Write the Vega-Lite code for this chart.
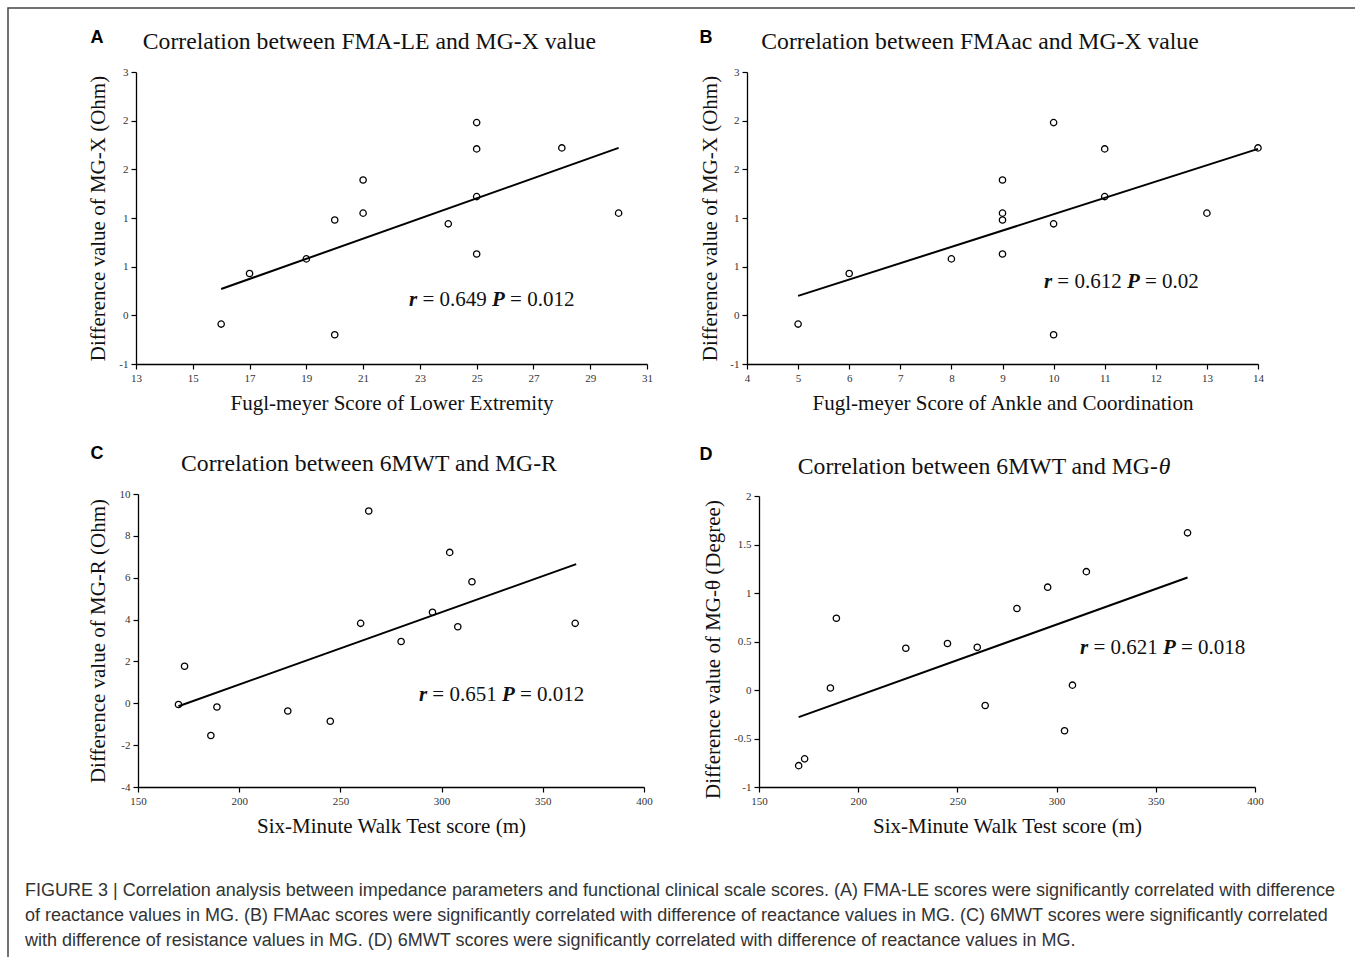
{
  "$schema": "https://vega.github.io/schema/vega-lite/v6.json",
  "width": 1355,
  "height": 957,
  "autosize": {"type": "fit", "contains": "padding"},
  "padding": {"left": 8, "top": 8, "right": -10, "bottom": -10},
  "background": "white",
  "config": {
    "view": {"stroke": "#444", "strokeWidth": 1.5, "strokeDash": [1400, 2265, 1000, 0]},
    "axis": {
      "grid": false,
      "labelFont": "Liberation Serif",
      "labelFontSize": 11,
      "labelColor": "#333",
      "labelPadding": 3,
      "labelFlush": false,
      "labelOverlap": false,
      "titleFont": "Liberation Serif",
      "titleFontSize": 21,
      "titleFontWeight": "normal",
      "titleColor": "#111",
      "domainColor": "#000",
      "domainWidth": 1.3,
      "tickColor": "#000",
      "tickWidth": 1.2,
      "tickSize": 5
    },
    "text": {"font": "Liberation Serif", "color": "#111"}
  },
  "title": {
    "text": [
      "FIGURE 3 | Correlation analysis between impedance parameters and functional clinical scale scores. (A) FMA-LE scores were significantly correlated with difference",
      "of reactance values in MG. (B) FMAac scores were significantly correlated with difference of reactance values in MG. (C) 6MWT scores were significantly correlated",
      "with difference of resistance values in MG. (D) 6MWT scores were significantly correlated with difference of reactance values in MG."
    ],
    "orient": "bottom",
    "anchor": "start",
    "frame": "group",
    "offset": -85,
    "dx": 17,
    "font": "Liberation Sans",
    "fontSize": 18,
    "fontWeight": "normal",
    "color": "#333",
    "lineHeight": 25,
    "baseline": "top"
  },
  "datasets": {
    "ptsA": [
      {"score": 16, "diff": -0.09}, {"score": 17, "diff": 0.43}, {"score": 19, "diff": 0.58},
      {"score": 20, "diff": 0.98}, {"score": 20, "diff": -0.2}, {"score": 21, "diff": 1.39},
      {"score": 21, "diff": 1.05}, {"score": 24, "diff": 0.94}, {"score": 25, "diff": 1.98},
      {"score": 25, "diff": 1.71}, {"score": 25, "diff": 1.22}, {"score": 25, "diff": 0.63},
      {"score": 28, "diff": 1.72}, {"score": 30, "diff": 1.05}
    ],
    "lineA": [{"score": 16, "diff": 0.27}, {"score": 30, "diff": 1.72}],
    "ptsB": [
      {"score": 5, "diff": -0.09}, {"score": 6, "diff": 0.43}, {"score": 8, "diff": 0.58},
      {"score": 9, "diff": 1.39}, {"score": 9, "diff": 1.05}, {"score": 9, "diff": 0.98},
      {"score": 9, "diff": 0.63}, {"score": 10, "diff": 1.98}, {"score": 10, "diff": 0.94},
      {"score": 10, "diff": -0.2}, {"score": 11, "diff": 1.71}, {"score": 11, "diff": 1.22},
      {"score": 13, "diff": 1.05}, {"score": 14, "diff": 1.72}
    ],
    "lineB": [{"score": 5, "diff": 0.2}, {"score": 14, "diff": 1.71}],
    "ptsC": [
      {"walk": 170, "diff": -0.06}, {"walk": 173, "diff": 1.77}, {"walk": 186, "diff": -1.54},
      {"walk": 189, "diff": -0.18}, {"walk": 224, "diff": -0.37}, {"walk": 245, "diff": -0.86},
      {"walk": 260, "diff": 3.82}, {"walk": 264, "diff": 9.19}, {"walk": 280, "diff": 2.95},
      {"walk": 295.5, "diff": 4.35}, {"walk": 304, "diff": 7.21}, {"walk": 308, "diff": 3.66},
      {"walk": 315, "diff": 5.81}, {"walk": 366, "diff": 3.82}
    ],
    "lineC": [{"walk": 170, "diff": -0.14}, {"walk": 366.5, "diff": 6.65}],
    "ptsD": [
      {"walk": 170, "diff": -0.78}, {"walk": 173, "diff": -0.71}, {"walk": 186, "diff": 0.02},
      {"walk": 189, "diff": 0.74}, {"walk": 224, "diff": 0.43}, {"walk": 245, "diff": 0.48},
      {"walk": 260, "diff": 0.44}, {"walk": 264, "diff": -0.16}, {"walk": 280, "diff": 0.84},
      {"walk": 295.5, "diff": 1.06}, {"walk": 304, "diff": -0.42}, {"walk": 308, "diff": 0.05},
      {"walk": 315, "diff": 1.22}, {"walk": 366, "diff": 1.62}
    ],
    "lineD": [{"walk": 170, "diff": -0.28}, {"walk": 366, "diff": 1.16}],
    "labA": [{"letter": "A", "title": "Correlation between FMA-LE and MG-X value", "r": "r", "rv": "= 0.649", "p": "P", "pv": "= 0.012"}],
    "labB": [{"letter": "B", "title": "Correlation between FMAac and MG-X value", "r": "r", "rv": "= 0.612", "p": "P", "pv": "= 0.02"}],
    "labC": [{"letter": "C", "title": "Correlation between 6MWT and MG-R", "r": "r", "rv": "= 0.651", "p": "P", "pv": "= 0.012"}],
    "labD": [{"letter": "D", "title": "Correlation between 6MWT and MG-", "theta": "θ", "r": "r", "rv": "= 0.621", "p": "P", "pv": "= 0.018"}]
  },
  "layer": [
    {
      "layer": [
        {
          "data": {"name": "ptsA"},
          "mark": {"type": "point", "shape": "circle", "filled": false, "size": 40, "strokeWidth": 1.3, "color": "#000", "opacity": 1},
          "encoding": {
            "x": {"field": "score", "type": "quantitative",
              "scale": {"domain": [13, 31], "range": [128, 639], "nice": false, "zero": false},
              "axis": {"title": "Fugl-meyer Score of Lower Extremity", "orient": "bottom", "offset": -603, "values": [13, 15, 17, 19, 21, 23, 25, 27, 29, 31], "format": "d", "titlePadding": 9}},
            "y": {"field": "diff", "type": "quantitative",
              "scale": {"domain": [-0.5, 2.5], "range": [356, 64], "nice": false, "zero": false},
              "axis": {"title": "Difference value of MG-X (Ohm)", "orient": "left", "offset": -128, "values": [-0.5, 0, 0.5, 1, 1.5, 2, 2.5], "labelExpr": "datum.value < 0 ? '-1' : format(round(datum.value), 'd')", "titlePadding": 10}}
          }
        },
        {
          "data": {"name": "lineA"},
          "mark": {"type": "line", "color": "#000", "strokeWidth": 2},
          "encoding": {"x": {"field": "score", "type": "quantitative"}, "y": {"field": "diff", "type": "quantitative"}}
        },
        {
          "data": {"name": "labA"},
          "mark": {"type": "text", "fontSize": 23.7, "align": "center", "baseline": "middle"},
          "encoding": {"x": {"datum": 21.22}, "y": {"datum": 2.805}, "text": {"field": "title"}}
        },
        {
          "data": {"name": "labA"},
          "mark": {"type": "text", "font": "Liberation Sans", "fontWeight": "bold", "fontSize": 18, "color": "#000", "align": "center", "baseline": "middle"},
          "encoding": {"x": {"datum": 11.63}, "y": {"datum": 2.846}, "text": {"field": "letter"}}
        },
        {
          "data": {"name": "labA"},
          "mark": {"type": "text", "fontSize": 21, "fontWeight": "bold", "fontStyle": "italic", "align": "left", "baseline": "middle"},
          "encoding": {"x": {"datum": 22.62}, "y": {"datum": 0.154}, "text": {"field": "r"}}
        },
        {
          "data": {"name": "labA"},
          "mark": {"type": "text", "fontSize": 21, "align": "left", "baseline": "middle", "dx": 13.4},
          "encoding": {"x": {"datum": 22.62}, "y": {"datum": 0.154}, "text": {"field": "rv"}}
        },
        {
          "data": {"name": "labA"},
          "mark": {"type": "text", "fontSize": 21, "fontWeight": "bold", "fontStyle": "italic", "align": "left", "baseline": "middle", "dx": 83},
          "encoding": {"x": {"datum": 22.62}, "y": {"datum": 0.154}, "text": {"field": "p"}}
        },
        {
          "data": {"name": "labA"},
          "mark": {"type": "text", "fontSize": 21, "align": "left", "baseline": "middle", "dx": 101},
          "encoding": {"x": {"datum": 22.62}, "y": {"datum": 0.154}, "text": {"field": "pv"}}
        }
      ]
    },
    {
      "layer": [
        {
          "data": {"name": "ptsB"},
          "mark": {"type": "point", "shape": "circle", "filled": false, "size": 40, "strokeWidth": 1.3, "color": "#000", "opacity": 1},
          "encoding": {
            "x": {"field": "score", "type": "quantitative",
              "scale": {"domain": [4, 14], "range": [739, 1250], "nice": false, "zero": false},
              "axis": {"title": "Fugl-meyer Score of Ankle and Coordination", "orient": "bottom", "offset": -603, "values": [4, 5, 6, 7, 8, 9, 10, 11, 12, 13, 14], "format": "d", "titlePadding": 9}},
            "y": {"field": "diff", "type": "quantitative",
              "scale": {"domain": [-0.5, 2.5], "range": [356, 64], "nice": false, "zero": false},
              "axis": {"title": "Difference value of MG-X (Ohm)", "orient": "left", "offset": -739, "values": [-0.5, 0, 0.5, 1, 1.5, 2, 2.5], "labelExpr": "datum.value < 0 ? '-1' : format(round(datum.value), 'd')", "titlePadding": 9}}
          }
        },
        {
          "data": {"name": "lineB"},
          "mark": {"type": "line", "color": "#000", "strokeWidth": 2},
          "encoding": {"x": {"field": "score", "type": "quantitative"}, "y": {"field": "diff", "type": "quantitative"}}
        },
        {
          "data": {"name": "labB"},
          "mark": {"type": "text", "fontSize": 23.7, "align": "center", "baseline": "middle"},
          "encoding": {"x": {"datum": 8.56}, "y": {"datum": 2.805}, "text": {"field": "title"}}
        },
        {
          "data": {"name": "labB"},
          "mark": {"type": "text", "font": "Liberation Sans", "fontWeight": "bold", "fontSize": 18, "color": "#000", "align": "center", "baseline": "middle"},
          "encoding": {"x": {"datum": 3.198}, "y": {"datum": 2.846}, "text": {"field": "letter"}}
        },
        {
          "data": {"name": "labB"},
          "mark": {"type": "text", "fontSize": 21, "fontWeight": "bold", "fontStyle": "italic", "align": "left", "baseline": "middle"},
          "encoding": {"x": {"datum": 9.81}, "y": {"datum": 0.339}, "text": {"field": "r"}}
        },
        {
          "data": {"name": "labB"},
          "mark": {"type": "text", "fontSize": 21, "align": "left", "baseline": "middle", "dx": 13.4},
          "encoding": {"x": {"datum": 9.81}, "y": {"datum": 0.339}, "text": {"field": "rv"}}
        },
        {
          "data": {"name": "labB"},
          "mark": {"type": "text", "fontSize": 21, "fontWeight": "bold", "fontStyle": "italic", "align": "left", "baseline": "middle", "dx": 83},
          "encoding": {"x": {"datum": 9.81}, "y": {"datum": 0.339}, "text": {"field": "p"}}
        },
        {
          "data": {"name": "labB"},
          "mark": {"type": "text", "fontSize": 21, "align": "left", "baseline": "middle", "dx": 101},
          "encoding": {"x": {"datum": 9.81}, "y": {"datum": 0.339}, "text": {"field": "pv"}}
        }
      ]
    },
    {
      "layer": [
        {
          "data": {"name": "ptsC"},
          "mark": {"type": "point", "shape": "circle", "filled": false, "size": 40, "strokeWidth": 1.3, "color": "#000", "opacity": 1},
          "encoding": {
            "x": {"field": "walk", "type": "quantitative",
              "scale": {"domain": [150, 400], "range": [130, 636], "nice": false, "zero": false},
              "axis": {"title": "Six-Minute Walk Test score (m)", "orient": "bottom", "offset": -180, "values": [150, 200, 250, 300, 350, 400], "format": "d", "titlePadding": 9}},
            "y": {"field": "diff", "type": "quantitative",
              "scale": {"domain": [-4, 10], "range": [779, 486], "nice": false, "zero": false},
              "axis": {"title": "Difference value of MG-R (Ohm)", "orient": "left", "offset": -130, "values": [-4, -2, 0, 2, 4, 6, 8, 10], "labelExpr": "datum.value + ''", "titlePadding": 11}}
          }
        },
        {
          "data": {"name": "lineC"},
          "mark": {"type": "line", "color": "#000", "strokeWidth": 2},
          "encoding": {"x": {"field": "walk", "type": "quantitative"}, "y": {"field": "diff", "type": "quantitative"}}
        },
        {
          "data": {"name": "labC"},
          "mark": {"type": "text", "fontSize": 23.7, "align": "center", "baseline": "middle"},
          "encoding": {"x": {"datum": 264.1}, "y": {"datum": 11.42}, "text": {"field": "title"}}
        },
        {
          "data": {"name": "labC"},
          "mark": {"type": "text", "font": "Liberation Sans", "fontWeight": "bold", "fontSize": 18, "color": "#000", "align": "center", "baseline": "middle"},
          "encoding": {"x": {"datum": 129.74}, "y": {"datum": 11.9}, "text": {"field": "letter"}}
        },
        {
          "data": {"name": "labC"},
          "mark": {"type": "text", "fontSize": 21, "fontWeight": "bold", "fontStyle": "italic", "align": "left", "baseline": "middle"},
          "encoding": {"x": {"datum": 288.8}, "y": {"datum": 0.38}, "text": {"field": "r"}}
        },
        {
          "data": {"name": "labC"},
          "mark": {"type": "text", "fontSize": 21, "align": "left", "baseline": "middle", "dx": 13.4},
          "encoding": {"x": {"datum": 288.8}, "y": {"datum": 0.38}, "text": {"field": "rv"}}
        },
        {
          "data": {"name": "labC"},
          "mark": {"type": "text", "fontSize": 21, "fontWeight": "bold", "fontStyle": "italic", "align": "left", "baseline": "middle", "dx": 83},
          "encoding": {"x": {"datum": 288.8}, "y": {"datum": 0.38}, "text": {"field": "p"}}
        },
        {
          "data": {"name": "labC"},
          "mark": {"type": "text", "fontSize": 21, "align": "left", "baseline": "middle", "dx": 101},
          "encoding": {"x": {"datum": 288.8}, "y": {"datum": 0.38}, "text": {"field": "pv"}}
        }
      ]
    },
    {
      "layer": [
        {
          "data": {"name": "ptsD"},
          "mark": {"type": "point", "shape": "circle", "filled": false, "size": 40, "strokeWidth": 1.3, "color": "#000", "opacity": 1},
          "encoding": {
            "x": {"field": "walk", "type": "quantitative",
              "scale": {"domain": [150, 400], "range": [751, 1247], "nice": false, "zero": false},
              "axis": {"title": "Six-Minute Walk Test score (m)", "orient": "bottom", "offset": -180, "values": [150, 200, 250, 300, 350, 400], "format": "d", "titlePadding": 9}},
            "y": {"field": "diff", "type": "quantitative",
              "scale": {"domain": [-1, 2], "range": [779, 488], "nice": false, "zero": false},
              "axis": {"title": "Difference value of MG-θ (Degree)", "orient": "left", "offset": -751, "values": [-1, -0.5, 0, 0.5, 1, 1.5, 2], "labelExpr": "datum.value + ''", "titlePadding": 10, "titleY": 641}}
          }
        },
        {
          "data": {"name": "lineD"},
          "mark": {"type": "line", "color": "#000", "strokeWidth": 2},
          "encoding": {"x": {"field": "walk", "type": "quantitative"}, "y": {"field": "diff", "type": "quantitative"}}
        },
        {
          "data": {"name": "labD"},
          "mark": {"type": "text", "fontSize": 23.7, "align": "right", "baseline": "middle"},
          "encoding": {"x": {"datum": 351.0}, "y": {"datum": 2.299}, "text": {"field": "title"}}
        },
        {
          "data": {"name": "labD"},
          "mark": {"type": "text", "fontSize": 23.7, "fontStyle": "italic", "align": "left", "baseline": "middle", "dx": 1},
          "encoding": {"x": {"datum": 351.0}, "y": {"datum": 2.299}, "text": {"field": "theta"}}
        },
        {
          "data": {"name": "labD"},
          "mark": {"type": "text", "font": "Liberation Sans", "fontWeight": "bold", "fontSize": 18, "color": "#000", "align": "center", "baseline": "middle"},
          "encoding": {"x": {"datum": 123.3}, "y": {"datum": 2.423}, "text": {"field": "letter"}}
        },
        {
          "data": {"name": "labD"},
          "mark": {"type": "text", "fontSize": 21, "fontWeight": "bold", "fontStyle": "italic", "align": "left", "baseline": "middle"},
          "encoding": {"x": {"datum": 311.8}, "y": {"datum": 0.433}, "text": {"field": "r"}}
        },
        {
          "data": {"name": "labD"},
          "mark": {"type": "text", "fontSize": 21, "align": "left", "baseline": "middle", "dx": 13.4},
          "encoding": {"x": {"datum": 311.8}, "y": {"datum": 0.433}, "text": {"field": "rv"}}
        },
        {
          "data": {"name": "labD"},
          "mark": {"type": "text", "fontSize": 21, "fontWeight": "bold", "fontStyle": "italic", "align": "left", "baseline": "middle", "dx": 83},
          "encoding": {"x": {"datum": 311.8}, "y": {"datum": 0.433}, "text": {"field": "p"}}
        },
        {
          "data": {"name": "labD"},
          "mark": {"type": "text", "fontSize": 21, "align": "left", "baseline": "middle", "dx": 101},
          "encoding": {"x": {"datum": 311.8}, "y": {"datum": 0.433}, "text": {"field": "pv"}}
        }
      ]
    }
  ],
  "resolve": {
    "scale": {"x": "independent", "y": "independent"},
    "axis": {"x": "independent", "y": "independent"}
  }
}
